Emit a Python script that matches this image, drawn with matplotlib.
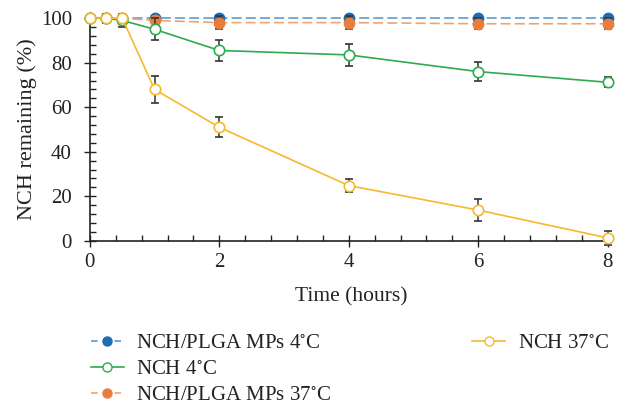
import matplotlib.pyplot as plt
from matplotlib.ticker import MultipleLocator
from matplotlib.lines import Line2D

plt.rcParams['font.family'] = ['Liberation Serif', 'DejaVu Serif']
plt.rcParams['mathtext.fontset'] = 'stix'

# time points (hours)
time = [0, 0.25, 0.5, 1, 2, 4, 6, 8]

# NCH remaining (%) and error bars
mps_4c = [100, 100, 100, 100, 100, 100, 100, 100]
mps_4c_err = [0, 0, 0, 0.5, 0.5, 0.5, 0.5, 0.5]
nch_4c = [100, 100, 99, 95, 85.5, 83.5, 76, 71.2]
nch_4c_err = [0, 1, 3, 5, 4.7, 5, 4.2, 2.3]
mps_37c = [100, 100, 100, 99, 98, 98, 97.5, 97.5]
mps_37c_err = [0, 0, 0, 1, 3, 3, 2.5, 2.5]
nch_37c = [100, 100, 100, 68, 51, 24.8, 13.8, 1.3]
nch_37c_err = [0, 2, 1, 6, 4.6, 3, 5, 3]

labels = ["NCH/PLGA MPs 4$^{\\circ}$C", "NCH 4$^{\\circ}$C",
          "NCH/PLGA MPs 37$^{\\circ}$C", "NCH 37$^{\\circ}$C"]

fig = plt.figure(figsize=(6.24, 4.04), dpi=100)
ax = fig.add_axes([0.144, 0.404, 0.837, 0.551])

ecol = '#333333'
ekw = dict(ecolor=ecol, elinewidth=1.1, capsize=3, capthick=1.1)

# dashed microparticle series
ax.errorbar(time, mps_4c, yerr=mps_4c_err, color='#5b9bd5', ls=(0, (6, 2.5)), lw=1.2,
            marker='o', ms=7.5, mfc='#1f6bb5', mec='#1f6bb5', zorder=3, clip_on=False, **ekw)
ax.errorbar(time, mps_37c, yerr=mps_37c_err, color='#f0a272', ls=(0, (6, 2.5)), lw=1.2,
            marker='o', ms=7.5, mfc='#e87d3e', mec='#e87d3e', zorder=4, clip_on=False, **ekw)

# free NCH series
ax.errorbar(time, nch_4c, yerr=nch_4c_err, color='#2eaa4f', lw=1.2,
            marker='o', ms=7.5, mfc='white', mec='#2eaa4f', mew=1.2, zorder=5, clip_on=False, **ekw)
ax.errorbar(time, nch_37c, yerr=nch_37c_err, color='#f7b92c', lw=1.2,
            marker='o', ms=7.5, mfc='white', mec='#f7b92c', mew=1.2, zorder=6, clip_on=False, **ekw)

ax.set_xlim(0, 8.07)
ax.set_ylim(0, 100)
ax.xaxis.set_major_locator(MultipleLocator(2))
ax.xaxis.set_minor_locator(MultipleLocator(0.4))
ax.yaxis.set_major_locator(MultipleLocator(20))
ax.yaxis.set_minor_locator(MultipleLocator(4))
ax.tick_params(which='major', direction='inout', length=8, width=1, labelsize=15,
               colors='#222222')
ax.tick_params(axis='x', which='major', pad=5)
ax.tick_params(axis='y', which='major', pad=9)
ax.tick_params(which='minor', direction='in', length=4, width=1, colors='#222222')
for s in ('top', 'right'):
    ax.spines[s].set_visible(False)
for s in ('left', 'bottom'):
    ax.spines[s].set_linewidth(1.2)
    ax.spines[s].set_color('#222222')

ax.set_xlabel("Time (hours)", fontsize=15.5, color='#222222', labelpad=11)
ax.set_ylabel("NCH remaining (%)", fontsize=16, color='#222222', labelpad=3)

# legend: three entries in the first column, one in the second
handles = [
    Line2D([], [], color='#5b9bd5', ls=(0, (4, 3)), lw=1.2, marker='o', ms=6.5,
           mfc='#1f6bb5', mec='#1f6bb5'),
    Line2D([], [], color='#2eaa4f', lw=1.2, marker='o', ms=6.5, mfc='white', mec='#2eaa4f'),
    Line2D([], [], color='#f0a272', ls=(0, (4, 3)), lw=1.2, marker='o', ms=6.5,
           mfc='#e87d3e', mec='#e87d3e'),
    Line2D([], [], color='#f7b92c', lw=1.2, marker='o', ms=6.5, mfc='white', mec='#f7b92c'),
    Line2D([], [], ls='none'),
    Line2D([], [], ls='none'),
]
fig.legend(handles, labels + ["", ""], ncol=2, loc='upper left', bbox_to_anchor=(0.115, 0.22),
           frameon=False, fontsize=15, handlelength=1.6, columnspacing=6.75,
           labelspacing=0.3, handletextpad=0.6, labelcolor='#222222')

fig.savefig("out.png", dpi=100)
